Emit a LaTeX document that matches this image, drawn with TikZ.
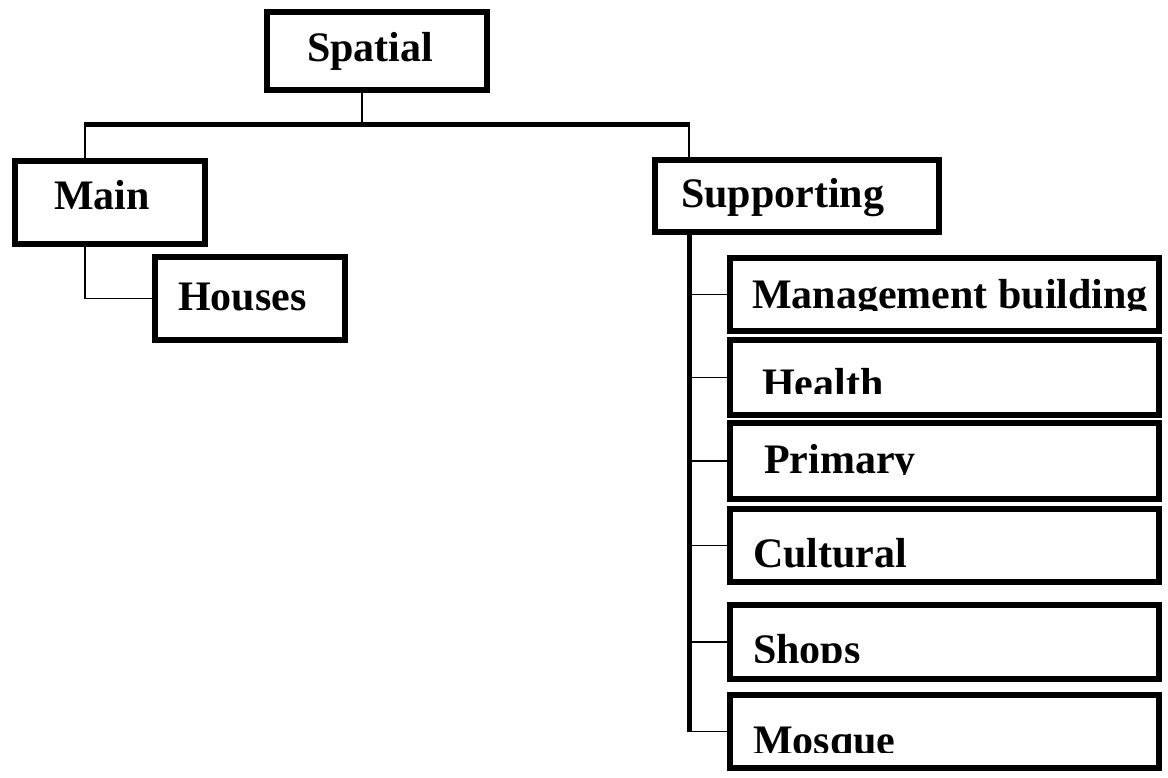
\documentclass[tikz,border=0pt]{standalone}
\usepackage{fontspec}
\setmainfont{Liberation Serif}
\begin{document}
\begin{tikzpicture}[x=1pt,y=-1pt,font=\fontsize{42}{50}\selectfont\bfseries]
  \tikzstyle{box}=[draw, rectangle, line width=6pt, inner sep=0pt]
  \tikzstyle{thin}=[line width=1.5pt]
  \tikzstyle{bus}=[line width=5pt]
  \tikzstyle{label}=[anchor=base west, inner sep=0pt]
  \useasboundingbox (0,0) rectangle (1168,777);

  % boxes
  \node[box, minimum width=220pt, minimum height=78pt] (spatial) at (377,51) {};
  \node[box, minimum width=190pt, minimum height=83pt] (main) at (110,202.5) {};
  \node[box, minimum width=190pt, minimum height=83pt] (houses) at (250,298.5) {};
  \node[box, minimum width=284pt, minimum height=72pt] (sup) at (797,196) {};
  \foreach \n/\y/\h in {mgmt/294.5/73, health/377.5/75, primary/461/76,
                        cultural/545.5/73, shops/642/74, mosque/731.5/73} {
    \node[box, minimum width=429pt, minimum height=\h pt] (\n) at (944.5,\y) {};
  }

  % texts
  \node[label] (spatialtxt) at (307,61) {Spatial};
  \node[label] (maintxt) at (54,209) {Main};
  \node[label] (housestxt) at (178,310) {Houses};
  \node[label] (suptxt) at (681,207) {Supporting};
  \foreach \n/\t/\x/\b/\c in {mgmt/Management building/752/308/310,
                              health/Health/762/397/393,
                              primary/Primary/764/473/474,
                              cultural/Cultural/753/567/580,
                              shops/Shops/753/663/662,
                              mosque/Mosque/753/754/752} {
    \begin{scope}
      \clip (700,\c-100) rectangle (1160,\c);
      \node[label] (\n txt) at (\x,\b) {\t};
    \end{scope}
  }

  % connectors
  \coordinate (busl) at (85,124);
  \coordinate (busm) at (362,124);
  \coordinate (busr) at (689,124);
  \coordinate (trunk) at (689,733);
  \draw[bus] ([xshift=-0.75pt]busl) -- ([xshift=0.75pt]busr);
  \draw[thin] (busm |- spatial.south) -- (busm);
  \draw[thin] (busl) -- (busl |- main.north);
  \draw[thin] (busr) -- (busr |- sup.north);
  \draw[thin] (busl |- main.south) -- (busl |- houses.west) -- (houses.west);
  \draw[bus] (trunk |- sup.south) -- ([yshift=0.75pt]trunk);
  \foreach \n in {mgmt, health, primary, cultural, shops, mosque}
    \draw[thin] (trunk |- \n.west) -- (\n.west);
\end{tikzpicture}
\end{document}
